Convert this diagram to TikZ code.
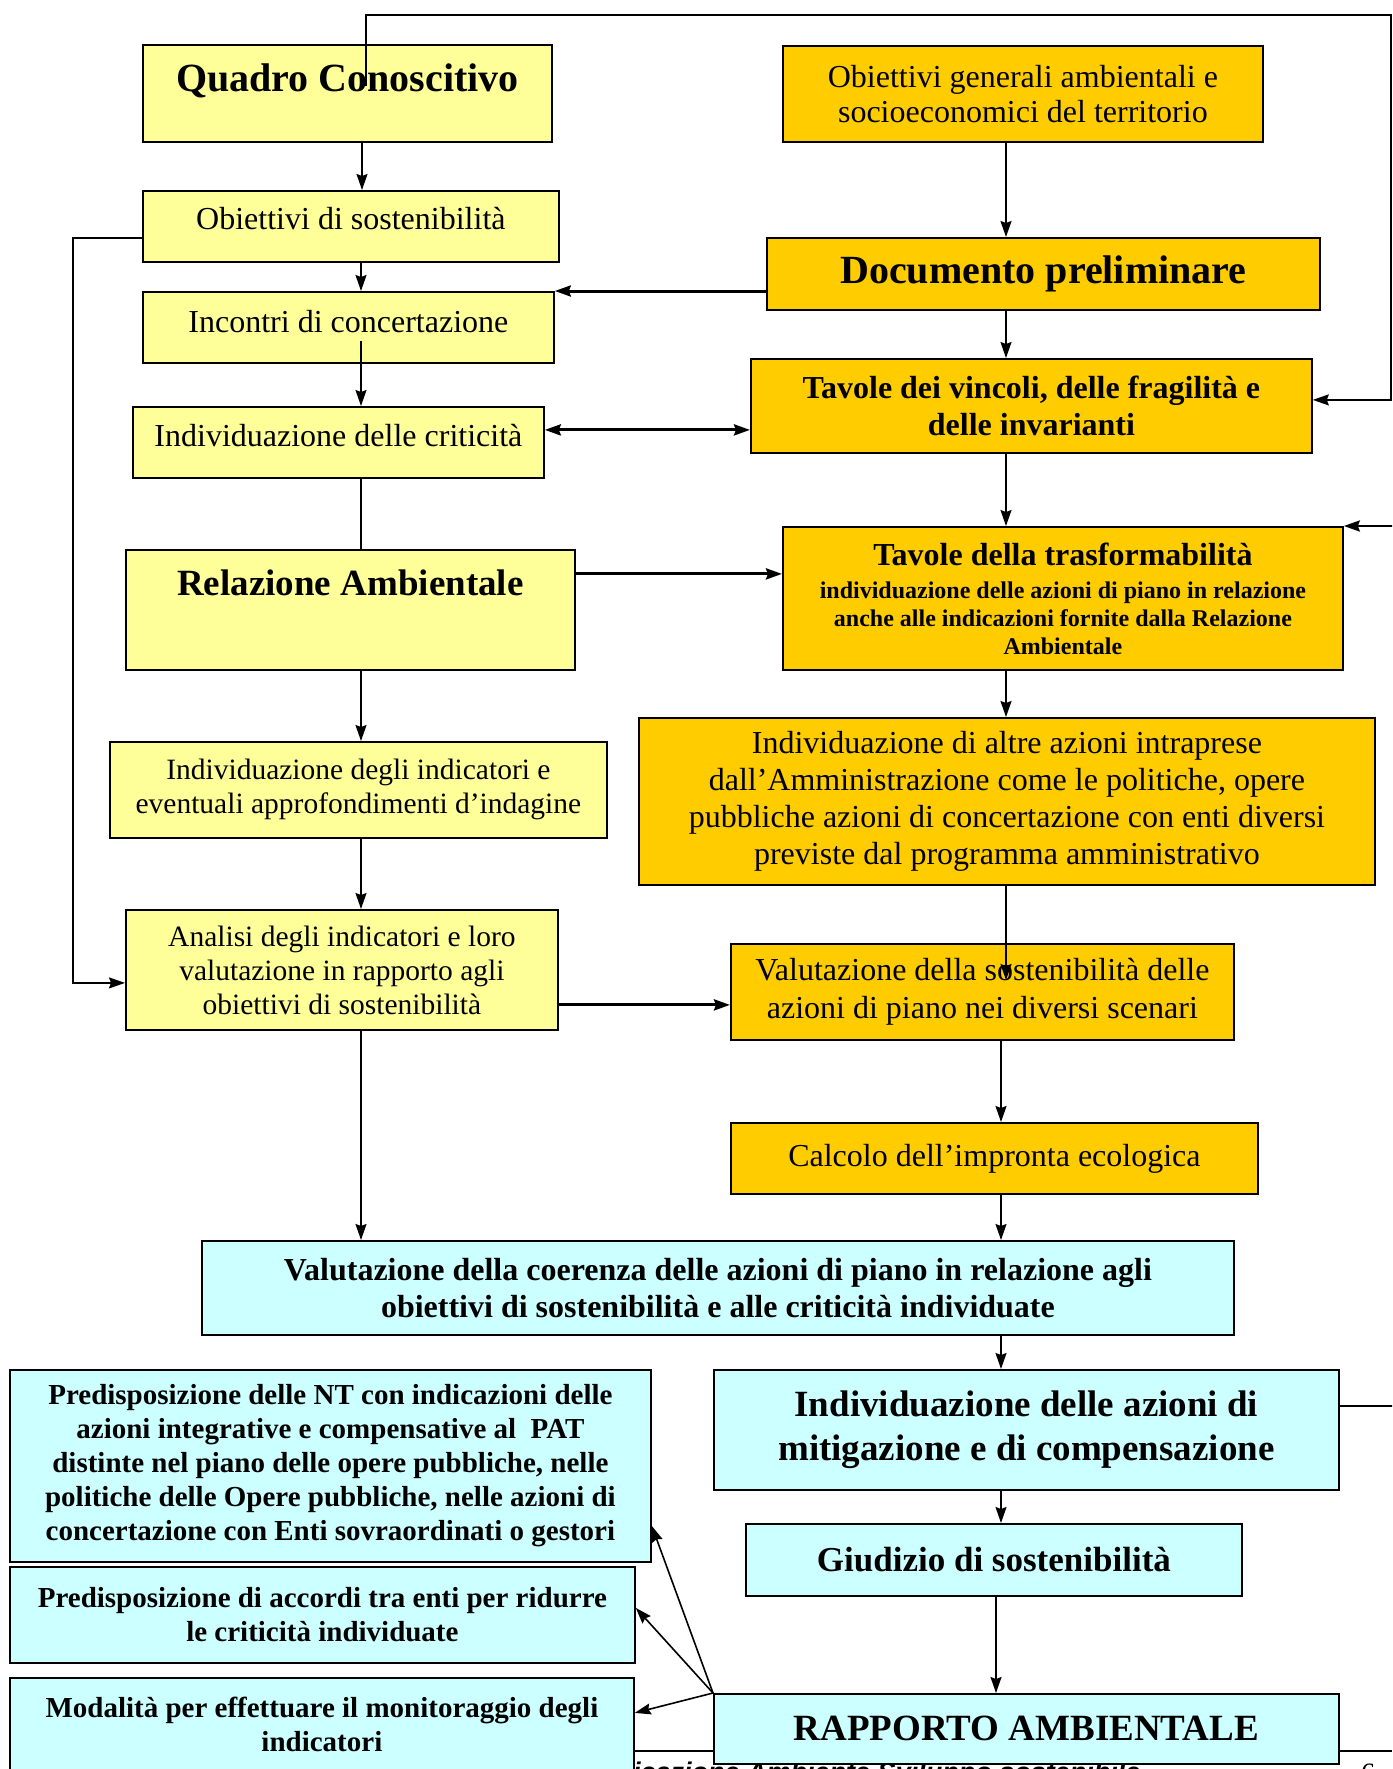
\documentclass[tikz,border=0pt]{standalone}
\usepackage{fontspec}
\setmainfont{Liberation Serif}
\newfontfamily\footfont{Liberation Sans}
\usetikzlibrary{arrows.meta,calc}
\definecolor{fillYellow}{HTML}{FFFF99}
\definecolor{fillGold}{HTML}{FFCC00}
\definecolor{fillCyan}{HTML}{CCFFFF}
\newcommand{\fsz}[2]{\fontsize{#1pt}{#2pt}\selectfont}
\tikzset{>={Stealth[length=16pt,width=11pt,inset=2pt]},
  box/.style={draw,line width=1.8pt,inner sep=0pt,align=center,anchor=north west},
  ybox/.style={box,fill=fillYellow},
  obox/.style={box,fill=fillGold},
  cbox/.style={box,fill=fillCyan},
  conn/.style={line width=1.6pt},
  bconn/.style={line width=3pt}}

\begin{document}
\begin{tikzpicture}[x=1pt,y=-1pt]
    \useasboundingbox (0,0) rectangle (1392,1769);
    \clip (0,0) rectangle (1392,1769);

    % footer of the page
    \coordinate (footL) at (633,1751);
    \coordinate (footR) at (1392,1751);
    \draw[line width=1.5pt] (footL) -- (footR);
    \node[font=\footfont\bfseries\itshape\fsz{27}{30},anchor=base west,inner sep=0pt] (footTxt) at (633,1781) {icazione Ambiente Sviluppo sostenibile};
    \node[font=\fsz{28}{30},anchor=base,inner sep=0pt] (pageNo) at (1368,1782) {6};

    % left column
    \node[ybox,minimum width=409pt,minimum height=97pt] (quadro) at (142,44) {};
    \node[font=\bfseries\fsz{40}{44}] (quadroTxt) at ([yshift=-37pt]quadro.north) {Quadro Conoscitivo};
    \node[ybox,minimum width=416pt,minimum height=71pt] (obsost) at (142,190) {};
    \node[font=\fsz{32}{35}] (obsostTxt) at ([yshift=-29pt]obsost.north) {Obiettivi di sostenibilità};
    \node[ybox,minimum width=411pt,minimum height=71pt] (incontri) at (142,291) {};
    \node[font=\fsz{32}{35}] (incontriTxt) at ([yshift=-30.5pt]incontri.north) {Incontri di concertazione};
    \node[ybox,minimum width=411pt,minimum height=71pt] (criticita) at (132,406) {};
    \node[font=\fsz{32}{35}] (criticitaTxt) at ([yshift=-29.5pt]criticita.north) {Individuazione delle criticità};
    \node[ybox,minimum width=449pt,minimum height=120pt] (relamb) at (125,549) {};
    \node[font=\bfseries\fsz{37}{40}] (relambTxt) at ([yshift=-34pt]relamb.north) {Relazione Ambientale};
    \node[ybox,minimum width=497pt,minimum height=96pt,font=\fsz{29.5}{34}] (indic) at (109,741) {Individuazione degli indicatori e\\eventuali approfondimenti d’indagine};
    \node[ybox,minimum width=432pt,minimum height=120pt,font=\fsz{29.5}{34}] (analisi) at (125,909) {Analisi degli indicatori e loro\\valutazione in rapporto agli\\obiettivi di sostenibilità};

    % right column
    \node[obox,minimum width=480pt,minimum height=96pt,font=\fsz{32}{35}] (obgen) at (782,45) {Obiettivi generali ambientali e\\socioeconomici del territorio};
    \node[obox,minimum width=553pt,minimum height=72pt,font=\bfseries\fsz{40}{44}] (docprel) at (766,237) {Documento preliminare};
    \node[obox,minimum width=561pt,minimum height=94pt,font=\bfseries\fsz{32}{37}] (vincoli) at (750,358) {Tavole dei vincoli, delle fragilità e\\delle invarianti};
    \node[obox,minimum width=560pt,minimum height=143pt,font=\bfseries\fsz{24}{28}] (trasf) at (782,526) {{\fsz{32}{36}Tavole della trasformabilità}\\[5pt]individuazione delle azioni di piano in relazione\\anche alle indicazioni fornite dalla Relazione\\Ambientale};
    \node[obox,minimum width=736pt,minimum height=167pt,font=\fsz{32}{37}] (altre) at (638,717) {Individuazione di altre azioni intraprese\\dall’Amministrazione come le politiche, opere\\pubbliche azioni di concertazione con enti diversi\\previste dal programma amministrativo};
    \node[obox,minimum width=503pt,minimum height=96pt,font=\fsz{32}{38}] (valsost) at (730,943) {Valutazione della sostenibilità delle\\azioni di piano nei diversi scenari};
    \node[obox,minimum width=527pt,minimum height=71pt,font=\fsz{32}{35}] (calcolo) at (730,1122) {Calcolo dell’impronta ecologica};

    % bottom part
    \node[cbox,minimum width=1032pt,minimum height=94pt,font=\bfseries\fsz{32}{37}] (coerenza) at (201,1240) {Valutazione della coerenza delle azioni di piano in relazione agli\\obiettivi di sostenibilità e alle criticità individuate};
    \node[cbox,minimum width=641pt,minimum height=192pt,font=\bfseries\fsz{29}{34}] (predNT) at (9,1369) {Predisposizione delle NT con indicazioni delle\\azioni integrative e compensative al \ PAT\\distinte nel piano delle opere pubbliche, nelle\\politiche delle Opere pubbliche, nelle azioni di\\concertazione con Enti sovraordinati o gestori};
    \node[cbox,minimum width=625pt,minimum height=120pt,font=\bfseries\fsz{37}{44}] (mitig) at (713,1369) {Individuazione delle azioni di\\mitigazione e di compensazione};
    \node[cbox,minimum width=496pt,minimum height=72pt,font=\bfseries\fsz{35}{40}] (giudizio) at (745,1523) {Giudizio di sostenibilità};
    \node[cbox,minimum width=625pt,minimum height=96pt,font=\bfseries\fsz{29}{34}] (accordi) at (9,1566) {Predisposizione di accordi tra enti per ridurre\\le criticità individuate};
    \node[cbox,minimum width=624pt,minimum height=94pt,font=\bfseries\fsz{29}{34}] (modalita) at (9,1677) {Modalità per effettuare il monitoraggio degli\\indicatori};
    \node[cbox,minimum width=625pt,minimum height=70pt,font=\bfseries\fsz{37}{40}] (rapporto) at (713,1693) {RAPPORTO AMBIENTALE};

    % connectors
    \coordinate (qx) at (362,0);
    \coordinate (lx) at (361,0);
    \coordinate (rx) at (1006,0);
    \coordinate (rx2) at (1001,0);
    \coordinate (rx3) at (996,0);
    \coordinate (lloop) at (73,0);
    \coordinate (topR) at (1391,15);
    \coordinate (farR) at (1430,0);
    \coordinate (quadroIn) at (366,86);
    \coordinate (incontriOut) at ($(incontri.south -| lx)+(0,-23)$);
    \coordinate (valsostIn) at ($(valsost.north -| rx)+(0,37)$);
    \coordinate (obsostOut) at ([yshift=-11.5pt]obsost.west);
    \coordinate (analisiIn) at ([yshift=-13pt]analisi.west);
    \coordinate (analisiOut) at ([yshift=-35pt]analisi.east);
    \coordinate (criticitaOut) at ([yshift=12.5pt]criticita.east);
    \coordinate (relambOut) at ([yshift=36pt]relamb.east);
    \coordinate (vincoliIn) at ([yshift=6pt]vincoli.east);
    \coordinate (mitigOut) at ([yshift=24pt]mitig.east);

    \draw[conn,->] (quadro.south -| qx) -- (obsost.north -| qx);
    \draw[conn,->] (obsost.south -| lx) -- (incontri.north -| lx);
    \draw[conn,->] (incontriOut) -- (criticita.north -| lx);
    \draw[conn] (criticita.south -| lx) -- (relamb.north -| lx);
    \draw[conn,->] (relamb.south -| lx) -- (indic.north -| lx);
    \draw[conn,->] (indic.south -| lx) -- (analisi.north -| lx);
    \draw[conn,->] (analisi.south -| lx) -- (coerenza.north -| lx);

    \draw[conn,->] (obgen.south -| rx) -- (docprel.north -| rx);
    \draw[conn,->] (docprel.south -| rx) -- (vincoli.north -| rx);
    \draw[conn,->] (vincoli.south -| rx) -- (trasf.north -| rx);
    \draw[conn,->] (trasf.south -| rx) -- (altre.north -| rx);
    \draw[conn,->] (altre.south -| rx) -- (valsostIn);
    \draw[conn,->] (valsost.south -| rx2) -- (calcolo.north -| rx2);
    \draw[conn,->] (calcolo.south -| rx2) -- (coerenza.north -| rx2);
    \draw[conn,->] (coerenza.south -| rx2) -- (mitig.north -| rx2);
    \draw[conn,->] (mitig.south -| rx2) -- (giudizio.north -| rx2);
    \draw[conn,->] (giudizio.south -| rx3) -- (rapporto.north -| rx3);

    \draw[bconn,->] (incontri.north east -| docprel.west) -- (incontri.north east);
    \draw[bconn,<->] (criticitaOut) -- (criticitaOut -| vincoli.west);
    \draw[bconn,->] (relambOut) -- (relambOut -| trasf.west);
    \draw[bconn,->] (analisiOut) -- (analisiOut -| valsost.west);

    \draw[conn,->] (obsostOut) -- (obsostOut -| lloop) -- (analisiIn -| lloop) -- (analisiIn);
    \draw[conn,->] (quadroIn) |- (topR) |- (vincoliIn);
    \draw[line width=2.4pt,->] (mitigOut) -- (mitigOut -| farR) -- (trasf.north east -| farR) -- (trasf.north east);

    \draw[conn,->] (rapporto.north west) -- ([yshift=-60pt]predNT.east);
    \draw[conn,->] (rapporto.north west) -- ([yshift=7pt]accordi.east);
    \draw[conn,->] (rapporto.north west) -- ([yshift=12pt]modalita.east);
\end{tikzpicture}
\end{document}
